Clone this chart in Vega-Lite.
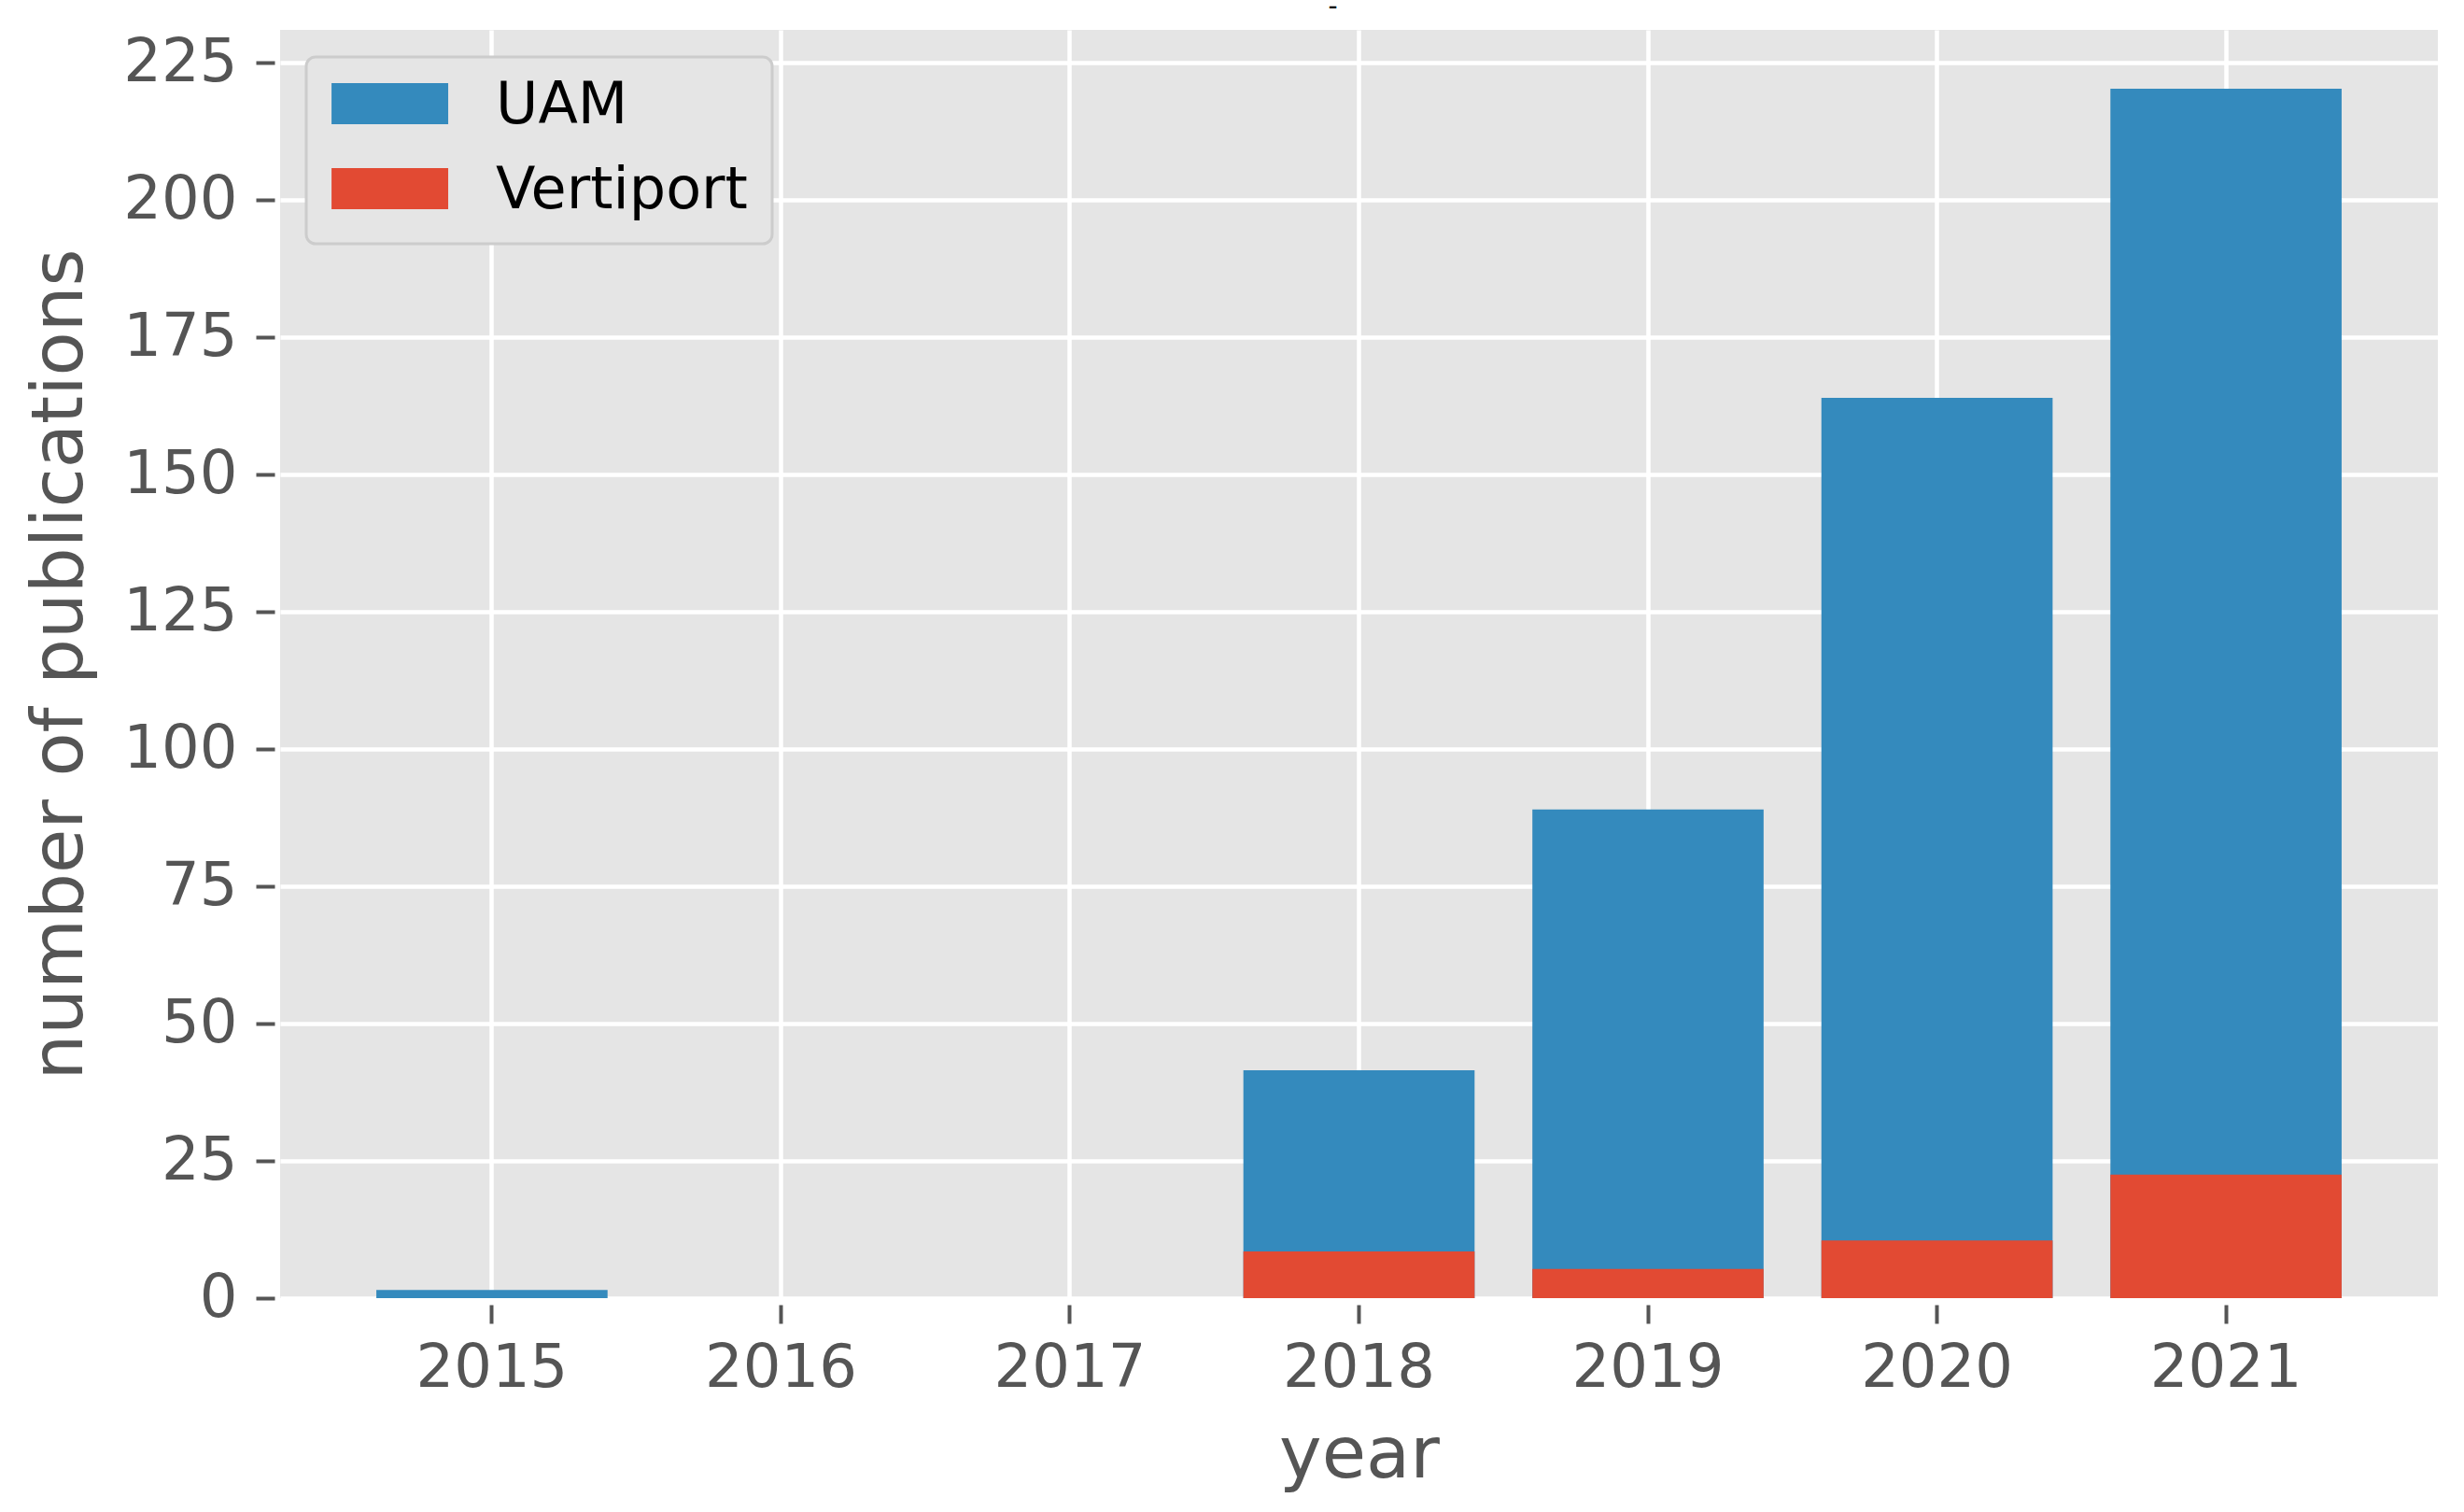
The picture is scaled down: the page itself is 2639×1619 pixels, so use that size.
{
  "$schema": "https://vega.github.io/schema/vega-lite/v6.json",
  "width": 2311,
  "height": 1358,
  "autosize": {"type": "none"},
  "padding": {"left": 300, "top": 32, "right": 28, "bottom": 229},
  "background": "#ffffff",
  "title": {"text": "-", "fontSize": 28, "fontWeight": "normal", "color": "#000000", "offset": 10, "dx": -28, "font": "DejaVu Sans"},
  "data": {
    "values": [
      {"year": "2015", "series": "UAM", "count": 1.5},
      {"year": "2016", "series": "UAM", "count": 0},
      {"year": "2017", "series": "UAM", "count": 0},
      {"year": "2018", "series": "UAM", "count": 41.5},
      {"year": "2019", "series": "UAM", "count": 89},
      {"year": "2020", "series": "UAM", "count": 164},
      {"year": "2021", "series": "UAM", "count": 220.3},
      {"year": "2015", "series": "Vertiport", "count": 0},
      {"year": "2016", "series": "Vertiport", "count": 0},
      {"year": "2017", "series": "Vertiport", "count": 0},
      {"year": "2018", "series": "Vertiport", "count": 8.5},
      {"year": "2019", "series": "Vertiport", "count": 5.3},
      {"year": "2020", "series": "Vertiport", "count": 10.5},
      {"year": "2021", "series": "Vertiport", "count": 22.5}
    ]
  },
  "mark": {"type": "bar", "strokeWidth": 0},
  "encoding": {
    "x": {
      "field": "year",
      "type": "ordinal",
      "scale": {"paddingInner": 0.2, "paddingOuter": 0.333},
      "axis": {
        "title": "year",
        "labelAngle": 0,
        "grid": true,
        "offset": 7,
        "labelPadding": 16,
        "titlePadding": 23
      }
    },
    "y": {
      "field": "count",
      "type": "quantitative",
      "stack": null,
      "scale": {"domain": [0, 231], "nice": false, "zero": true},
      "axis": {
        "title": "number of publications",
        "values": [0, 25, 50, 75, 100, 125, 150, 175, 200, 225],
        "offset": 6,
        "labelPadding": 20,
        "titlePadding": 28
      }
    },
    "color": {
      "field": "series",
      "type": "nominal",
      "scale": {"domain": ["UAM", "Vertiport"], "range": ["#348ABD", "#E24A33"]},
      "legend": {
        "title": null,
        "encode": {"labels": {"update": {"dy": {"value": -5}}}}
      }
    }
  },
  "config": {
    "font": "DejaVu Sans",
    "view": {"fill": "#E5E5E5", "stroke": null},
    "axis": {
      "domain": false,
      "gridColor": "#ffffff",
      "gridWidth": 4.5,
      "gridOpacity": 1,
      "tickColor": "#555555",
      "tickWidth": 4,
      "tickSize": 20,
      "labelFont": "DejaVu Sans",
      "labelFontSize": 64,
      "labelColor": "#555555",
      "titleFont": "DejaVu Sans",
      "titleFontSize": 77,
      "titleFontWeight": "normal",
      "titleColor": "#555555"
    },
    "legend": {
      "orient": "none",
      "legendX": 28,
      "legendY": 29,
      "fillColor": "#E5E5E5",
      "strokeColor": "#CCCCCC",
      "strokeWidth": 3,
      "cornerRadius": 10,
      "padding": 26,
      "labelFont": "DejaVu Sans",
      "labelFontSize": 62,
      "labelColor": "#000000",
      "labelLimit": 1000,
      "symbolType": "M-1.36,-1.32H4.32V0.68H-1.36Z",
      "symbolSize": 1936,
      "symbolStrokeWidth": 0,
      "symbolOpacity": 1,
      "labelOffset": 115,
      "rowPadding": 29
    }
  }
}
